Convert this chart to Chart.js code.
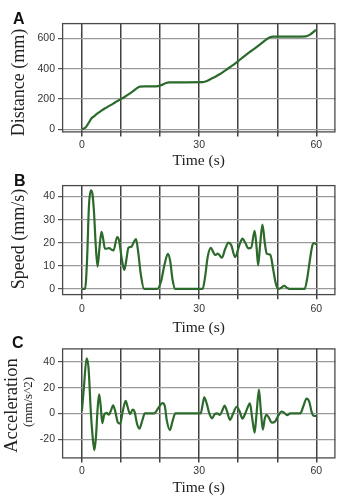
<!DOCTYPE html>
<html><head><meta charset="utf-8">
<script src="https://cdn.jsdelivr.net/npm/chart.js@4.4.1/dist/chart.umd.min.js"></script>
<style>
html,body{margin:0;padding:0;background:#fff;width:341px;height:503px;overflow:hidden}
canvas{position:absolute;left:0}
.lbl{position:absolute;font:bold 16px "Liberation Sans",Arial,sans-serif;line-height:16px;color:#111}
</style></head><body>
<canvas id="cA" width="341" height="170" style="top:0px"></canvas>
<canvas id="cB" width="341" height="172" style="top:165px"></canvas>
<canvas id="cC" width="341" height="167" style="top:330px"></canvas>
<div class="lbl" style="left:13px;top:11px">A</div>
<div class="lbl" style="left:14px;top:173px">B</div>
<div class="lbl" style="left:12px;top:335px">C</div>
<script>
// ---- data ----
const xTickValues = [0, 10, 20, 30, 40, 50, 60];
const xTickLabels = [0, 30, 60];

const distTime = [0,1,2,2.5,3,4,5,6,7,8,9,10,11,12,13,14,14.8,16,18,19.5,20.5,21.5,22.3,25,31,32,33,34,35,36,37,38,39,40,41,42,43,44,45,46,47,48,49,52,57.3,58.5,59.2,59.9];
const distValues = [0,15,55,75,85,105,124,140,155,170,186,200,215,232,250,270,282,283,283,285,293,305,310,310,311,318,332,345,360,375,393,412,430,450,470,490,510,528,548,568,588,605,610,610,612,625,640,655];
const distTicks = [0, 200, 400, 600];

const speedTime = [0,0.8,1.3,1.8,2.3,2.7,3.1,3.5,4.0,4.5,5.0,5.4,5.9,6.5,7.0,7.6,8.1,9.0,9.5,10.2,10.85,11.4,11.9,12.7,13.2,13.85,14.4,15.1,15.9,19.3,20.2,21.2,22.0,22.6,23.2,23.9,30.9,31.5,32.2,33.0,33.6,34.1,34.8,35.8,36.7,37.5,38.2,39.2,40.3,41.1,41.8,42.6,43.3,44.2,44.7,45.1,45.6,46.2,46.8,47.3,48.2,49.0,49.6,50.2,51.0,51.8,52.4,53.1,57.0,57.6,58.3,59.0,59.4,60.0];
const speedValues = [0,0,12,36,42.7,41,33,20,9.7,18,24.7,22,17.4,17.5,17.7,17,16.7,22.5,21,13,8.2,13,17.8,18.3,20,21.6,16,6,0,0,3,11,15.2,12,4,0,0,5,14,17.8,16,14.7,15.3,13.5,17.5,20.1,19,13.8,19,21.8,20,17.6,17.8,25.2,18,10.2,19,27.9,20,15.3,14.8,8,2.5,0,0.5,1.4,0.6,0,0,4,12,19,19.8,19.4];
const speedTicks = [0, 10, 20, 30, 40];

const accTime = [0,0.5,1.2,1.7,2.3,2.8,3.2,3.6,4.0,4.4,4.8,5.2,5.7,6.3,6.9,7.4,8.0,8.5,9.2,9.8,10.4,11.2,11.7,12.3,13.0,13.5,14.1,14.7,15.4,16.1,18.5,19.5,20.6,21.2,21.7,22.5,23.2,23.9,30.4,30.9,31.3,32.0,32.6,33.3,34.0,34.6,35.3,35.9,36.5,37.1,37.9,38.7,39.6,40.3,41.1,41.8,42.6,43.0,43.6,44.2,44.7,45.3,45.8,46.3,46.8,47.2,47.8,48.6,49.5,50.2,51.1,51.8,52.5,53.3,55.9,56.6,57.5,58.2,58.8,59.3,60.0];
const accValues = [2,20,42.8,35,0,-20,-28.5,-18,3,14.8,6,-7.5,-1,0.5,-1,2,6.3,2,-7,-8,1,9.8,5,-0.5,3,1,-8,-11.8,-6,0,0,4,8,6,-5,-13,-6,0,0,7,12.5,7,0,-3.8,-0.5,0,-1.2,2,6,2,-5,0,5.2,2,-4,0,6,7.8,-4,-15,0,18.5,2,-12.5,-4,-1,-3,-7.2,-6,-2,1.5,0.5,-1.3,0,0,5,11.5,9,1,-1.8,-2];
const accTicks = [-20, 0, 20, 40];

function hasFont(name) {
  const c = document.createElement('canvas').getContext('2d');
  c.font = '20px monospace';
  const w0 = c.measureText('600 30 mmm').width;
  c.font = '20px "' + name + '", monospace';
  return Math.abs(c.measureText('600 30 mmm').width - w0) > 0.5;
}
const narrow = hasFont('Liberation Sans Narrow');
const TICK_FONT = narrow
  ? { family: '"Liberation Sans Narrow", "Liberation Sans", Arial, sans-serif', size: 11.5 }
  : { family: '"Liberation Sans", Arial, sans-serif', size: 10.5 };
const SERIF = '"Liberation Serif", "Times New Roman", serif';

const GREEN = '#2b6a2b';
const PLOT_LEFT = 62;
const RIGHT_PAD = 5.5;

const framePlugin = {
  id: 'frame',
  afterDraw(chart) {
    const a = chart.chartArea, ctx = chart.ctx;
    ctx.save();
    ctx.strokeStyle = '#4a4a4a';
    ctx.lineWidth = 1.3;
    ctx.strokeRect(a.left + 0.6, a.top + 0.6, a.right - a.left - 1.2, a.bottom - a.top - 1.2);
    const yt = chart.options.plugins.yTitle;
    if (yt) {
      ctx.fillStyle = '#222';
      ctx.textAlign = 'center';
      ctx.textBaseline = 'middle';
      yt.lines.forEach(ln => {
        ctx.save();
        ctx.translate(ln.x, ln.y);
        ctx.rotate(-Math.PI / 2);
        ctx.font = ln.size + 'px ' + SERIF;
        ctx.fillText(ln.text, 0, 0);
        ctx.restore();
      });
    }
    ctx.restore();
  }
};

function makeChart(id, xs, ys, yMin, yMax, yTicks, padTop, xAxisH, xTickPad, yTitle) {
  return new Chart(document.getElementById(id), {
    type: 'line',
    data: {
      datasets: [{
        data: xs.map((x, i) => ({ x: x, y: ys[i] })),
        borderColor: GREEN,
        borderWidth: 2.2,
        pointRadius: 0,
        fill: false,
        cubicInterpolationMode: 'monotone'
      }]
    },
    options: {
      responsive: false,
      animation: false,
      devicePixelRatio: 1,
      layout: { padding: { top: padTop, right: RIGHT_PAD, left: 0, bottom: 0 } },
      plugins: { legend: { display: false }, tooltip: { enabled: false }, yTitle: yTitle },
      scales: {
        x: {
          type: 'linear', min: -5.1, max: 64.9,
          afterBuildTicks: s => { s.ticks = xTickValues.map(v => ({ value: v })); },
          afterFit: s => { s.height = xAxisH; },
          grid: { color: '#404040', lineWidth: 1.5, tickLength: 4, drawTicks: true },
          border: { display: false },
          ticks: {
            autoSkip: false, maxRotation: 0, padding: xTickPad, color: '#333',
            font: TICK_FONT,
            callback: v => xTickLabels.includes(v) ? String(v) : ''
          },
          title: {
            display: true, text: 'Time (s)', color: '#222', padding: 0,
            font: { family: SERIF, size: 15.5, lineHeight: 1.2 }
          }
        },
        y: {
          type: 'linear', min: yMin, max: yMax,
          afterBuildTicks: s => { s.ticks = yTicks.map(v => ({ value: v })); },
          afterFit: s => { s.width = PLOT_LEFT; },
          grid: { color: '#9a9a9a', lineWidth: 1.2, tickLength: 4, drawTicks: true, tickColor: '#555' },
          border: { display: false },
          ticks: {
            autoSkip: false, padding: 3, color: '#333',
            font: TICK_FONT,
            callback: v => String(v)
          }
        }
      }
    },
    plugins: [framePlugin]
  });
}

makeChart('cA', distTime, distValues, -20, 700, distTicks, 23, 37.5, 2,
  { lines: [{ text: 'Distance (mm)', size: 18, x: 19, y: 82.5 }] });
makeChart('cB', speedTime, speedValues, -2.7, 45, speedTicks, 20, 41.8, 4,
  { lines: [{ text: 'Speed (mm/s)', size: 18, x: 19, y: 74 }] });
makeChart('cC', accTime, accValues, -35, 50.6, accTicks, 18.3, 38.5, 2.7,
  { lines: [{ text: 'Acceleration', size: 18.5, x: 12.5, y: 75.5 },
            { text: '(mm/s^2)', size: 13, x: 29, y: 72 }] });
</script>
</body></html>
